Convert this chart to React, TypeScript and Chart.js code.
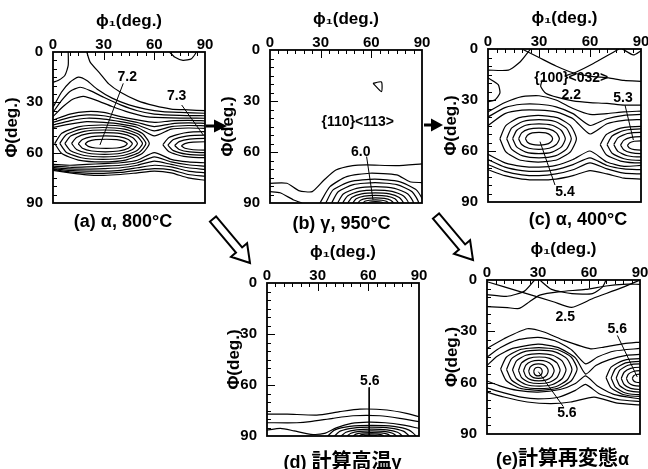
import React, { useEffect, useRef } from "react";
import { Chart, registerables } from "chart.js";

Chart.register(...registerables);

type Pt = [number, number];
type Label = { text: string; x: number; y: number; size: number };

// ---- shared axis values ----
const PHI1_GRID = [0, 10, 20, 30, 40, 50, 60, 70, 80, 90];
const AXIS_MIN = 0;
const AXIS_MAX = 90;
const AXIS_STEP = 30;
const X_TITLE = "ϕ₁(deg.)";
const Y_TITLE = "Φ(deg.)";
// unit contour-ring outline (a ring is given by its read extents [left, right, top, bottom])
const RING_SHAPE: Pt[] = [
  [-1, 0], [-0.85, -0.55], [-0.5, -0.9], [0, -1], [0.5, -0.9], [0.85, -0.55],
  [1, 0], [0.85, 0.55], [0.5, 0.9], [0, 1], [-0.5, 0.9], [-0.85, 0.55], [-1, 0],
];

// ---- (a) alpha, 800C ----
const A_LINES: Pt[][] = [
  [[9, 0], [9, 8], [7, 14], [3, 17], [0, 18]],
  [[69, 0], [72, 3], [77, 5], [82, 4], [85, 0]],
  [[20, 0], [22, 6], [28, 13], [33, 19], [40, 24], [50, 29], [60, 32], [70, 34], [80, 34.5], [90, 35]],
  [[0, 33], [5, 24], [10, 18], [15, 15], [20, 17], [26, 22], [35, 27.5], [45, 31.5], [55, 34], [65, 35.5], [75, 36], [90, 36.5]],
  [[0, 36], [5, 29], [10, 23.5], [16, 21], [22, 23], [30, 27], [40, 31.5], [50, 35], [60, 37], [75, 37.8], [90, 38]],
  [[0, 38.5], [6, 32.5], [12, 28], [18, 26.5], [25, 28.5], [35, 32.5], [45, 36], [55, 38.5], [70, 39.3], [90, 39.5]],
];
const A_GRID_LINES: number[][] = [
  [40.5, 37, 35.5, 36, 38.5, 40.5, 42, 41, 40.8, 41],
  [42, 39, 37.5, 38, 40, 42, 44.5, 42.8, 42.3, 42.5],
  [43.5, 41, 39.5, 40, 41.5, 43.5, 47, 44.5, 43.8, 44],
  [45, 43, 41.5, 42, 43, 45, 50, 46, 45.3, 45.5],
  [67, 67.5, 67, 66.5, 66, 64.5, 60, 64, 65.5, 66],
  [68, 68.7, 68.5, 68, 67.5, 66, 62.5, 65.5, 67.2, 68],
  [68.8, 69.7, 69.8, 69.5, 69, 67.5, 65, 67, 69, 70],
  [69.5, 70.6, 71, 71, 70.5, 69, 67.5, 68.5, 71, 72],
  [70, 71.4, 72.2, 72.3, 71.8, 70.5, 69.5, 70.3, 73, 74],
  [70.5, 72, 73.2, 73.5, 73, 72, 71, 72, 75, 76.5],
];
const A_RINGS: number[][] = [
  [19, 44, 52, 57.5], [15, 47, 50, 59.5], [11, 50, 48, 61], [7, 53, 46.5, 62.5], [4, 55, 45, 64], [1, 57, 43.5, 65.5],
  [76, 104, 53.5, 58.5], [72, 108, 51.5, 60], [68, 112, 49.5, 61.5], [65, 115, 47.5, 63],
];
const A_LEADERS: Pt[][] = [
  [[41.6, 18.7], [27.8, 55.4]],
  [[76.2, 31.6], [89, 49.5]],
];
const A_LABELS: Label[] = [
  { text: "7.2", x: 44, y: 14.9, size: 14 },
  { text: "7.3", x: 73.2, y: 26.6, size: 14 },
];

// ---- (b) gamma, 950C ----
const B_LINES: Pt[][] = [
  [[0, 78.4], [10, 78.4], [17, 82.7], [25, 83.3], [32, 76.5], [39, 70.6], [49, 68], [57, 67.6], [75, 68], [90, 67]],
  [[0, 83.3], [6, 84], [14, 88.2], [19, 90]],
  [[29.6, 90], [35.5, 80.4], [45.4, 74.5], [59, 72.5], [75, 73.5], [82.8, 77.5], [90, 78]],
  [[61, 19.6], [66, 18.8], [66, 24.5], [61, 19.6]],
];
const B_RINGS: number[][] = [
  [33, 91, 76, 104], [36.5, 88, 78, 102], [40, 85, 80.4, 99.6], [43, 82, 82.4, 97.6], [46, 79, 84, 96],
  [49, 76, 85.5, 94.5], [52, 73, 87, 93], [55, 70, 88.2, 91.8], [58, 67, 89.2, 90.8],
];
const B_LEADERS: Pt[][] = [[[57.2, 62.7], [61, 88.2]]];
const B_LABELS: Label[] = [
  { text: "{110}<113>", x: 52, y: 42.4, size: 14 },
  { text: "6.0", x: 53.7, y: 59.8, size: 14 },
];

// ---- (c) alpha, 400C ----
const C_LINES: Pt[][] = [
  [[0, 12.4], [12, 12.4], [19, 7.5], [25, 0]],
  [[79, 0], [85.5, 3.5], [90, 1]],
  [[20, 0], [30, 5], [40, 10], [50, 14], [60, 16], [71, 17], [80, 18.5], [90, 19]],
  [[77, 0], [70, 4], [62, 8.5], [52, 13.5], [45, 16]],
  [[0, 17], [6, 21], [7, 26], [4, 30], [0, 31]],
  [[32, 18], [31, 22], [34, 26], [41, 28.5], [50, 30.5], [60, 31.5], [70, 32], [80, 33], [90, 33]],
];
const C_GRID_LINES: number[][] = [
  [37, 31.5, 28, 27.5, 30, 35, 38.5, 38, 37, 36.5],
  [40, 34.5, 32.5, 32.5, 34, 38, 45, 41, 39, 38.5],
  [45, 38, 36, 36, 37, 41, 50, 44, 42, 41.5],
  [62, 67, 69, 69.5, 68.5, 65, 60, 66.5, 69, 68.5],
  [65, 69.5, 71.5, 72, 71, 68, 64, 68.5, 70.5, 71],
  [68, 72, 74, 74.5, 73.5, 71, 67, 70.5, 73, 73.5],
  [71, 74.5, 76.5, 77, 76.5, 74.5, 71.5, 73.5, 76, 76.5],
];
const C_RINGS: number[][] = [
  [22, 38, 49, 56.5], [18, 42, 46.5, 59], [14.5, 45.5, 44, 61.5], [11, 49, 41.5, 64], [7, 52, 39, 66.5],
  [82, 98, 54, 59.5], [78, 102, 51.5, 61.5], [74, 106, 49, 63.5], [70, 110, 47, 65.5], [66, 114, 45.5, 67],
];
const C_LEADERS: Pt[][] = [
  [[80.6, 33], [85.5, 53.5]],
  [[39.4, 80], [30.6, 54.5]],
];
const C_LABELS: Label[] = [
  { text: "{100}<032>", x: 49, y: 17, size: 14 },
  { text: "2.2", x: 49, y: 27, size: 14 },
  { text: "5.3", x: 79.4, y: 29, size: 14 },
  { text: "5.4", x: 45.3, y: 84, size: 14 },
];

// ---- (d) calculated high-temperature gamma ----
const D_LINES: Pt[][] = [
  [[0, 77.1], [12, 77.1], [29.5, 77.7], [43, 75.7], [55, 74.2], [71, 74.7], [82.5, 76.7], [90, 78.7]],
  [[0, 82.2], [17.7, 82.2], [25.5, 81.6], [39, 79.6], [51, 78.1], [66.8, 78.1], [78.6, 79.6], [90, 81.6]],
  [[0, 86.5], [8, 85.5], [16, 87], [26, 89], [34, 88.5], [41, 85.2], [50, 82.6], [60, 81.8], [70, 82.2], [80, 83.5], [90, 85.5]],
];
const D_RINGS: number[][] = [
  [36, 88, 83.7, 96.3], [40, 84, 84.8, 95.2], [44, 80, 86, 94], [47.5, 76.5, 87, 93],
  [51, 73, 88, 92], [54.5, 69, 88.8, 91.2], [57.5, 65, 89.5, 90.5],
];
const D_LEADERS: Pt[][] = [[[60.5, 61.4], [60.5, 90]]];
const D_LABELS: Label[] = [{ text: "5.6", x: 60.9, y: 58, size: 14 }];

// ---- (e) calculated re-transformed alpha ----
const E_LINES: Pt[][] = [
  [[0, 1], [19.4, 6.8], [39, 12.7], [49.8, 16], [62.5, 10.7], [78.2, 4.9], [90, 0]],
  [[0, 8.5], [12, 9.5], [22, 6.5], [28, 0]],
  [[31, 0], [38, 5.5], [50, 8], [62, 8], [68, 4], [70, 0]],
  [[0, 15.6], [12, 16.2], [19, 16.6], [25, 12.7], [31, 8.8], [43, 6.8], [58, 5.5], [70, 3.5], [80, 2.5], [90, 2.5]],
  [[0, 40], [10, 34.3], [23.7, 28.5], [33.5, 30.4], [45.3, 35.3], [61, 40.2], [68.8, 39.2], [80.6, 37.2], [90, 36.3]],
  [[0, 65.5], [10, 68.4], [23.7, 71.3], [37.5, 72.3], [49.2, 71.3], [63, 68.4], [76.7, 72], [90, 73]],
  [[0, 45], [8, 39.5], [18, 35], [30, 33.5], [40, 35.5], [50, 41], [58, 49], [65, 45], [75, 41.5], [90, 40]],
  [[0, 63], [10, 66], [20, 68.5], [30, 69.5], [42, 68.5], [52, 64.5], [58, 61], [66, 66.5], [78, 70], [90, 71]],
  [[0, 50], [6, 44.5], [15, 40], [30, 37.5], [42, 39.5], [52, 45.5], [58, 55], [64, 50], [72, 46.5], [82, 44], [90, 43.5]],
  [[0, 59], [8, 62], [18, 64.5], [30, 65.5], [43, 64], [52, 60.5], [58, 56], [65, 62], [75, 67], [90, 69.5]],
];
const E_RINGS: number[][] = [
  [27.5, 32.5, 51, 56], [24.5, 36, 49, 57.5], [21.5, 39.5, 47, 59], [18.5, 43, 45, 60.5],
  [15, 46.5, 43, 62], [11.5, 50, 41, 63.5], [8, 53, 39.5, 64.5],
  [85.5, 94.5, 55, 60], [82, 98, 53, 62], [79, 101, 51, 64], [76, 104, 49, 65.5], [73, 107, 47.5, 67], [70, 110, 46, 68],
];
const E_LEADERS: Pt[][] = [
  [[76.7, 32.4], [88.4, 56.7]],
  [[44.9, 74], [30.2, 53.6]],
];
const E_LABELS: Label[] = [
  { text: "2.5", x: 46, y: 21.5, size: 14 },
  { text: "5.6", x: 76.6, y: 28.5, size: 14 },
  { text: "5.6", x: 47, y: 77.8, size: 14 },
];

const CAPTIONS = [
  { head: "(a) α, 800°C", cjk: "", tail: "", x: 123, y: 221 },
  { head: "(b) γ, 950°C", cjk: "", tail: "", x: 341.5, y: 222.5 },
  { head: "(c) α, 400°C", cjk: "", tail: "", x: 578, y: 218.5 },
  { head: "(d) ", cjk: "計算高温", tail: "γ", x: 342.5, y: 460 },
  { head: "(e)", cjk: "計算再変態", tail: "α", x: 562.5, y: 456.5 },
];

interface PanelSpec {
  id: string;
  left: number;
  top: number;
  w: number;
  h: number;
  yTitlePad: number;
  lines: Pt[][];
  gridLines: number[][];
  rings: number[][];
  leaders: Pt[][];
  labels: Label[];
}

const PANELS: PanelSpec[] = [
  { id: "a", left: 53, top: 52, w: 152, h: 151, yTitlePad: 2.3, lines: A_LINES, gridLines: A_GRID_LINES, rings: A_RINGS, leaders: A_LEADERS, labels: A_LABELS },
  { id: "b", left: 270, top: 50, w: 152, h: 153, yTitlePad: 0.8, lines: B_LINES, gridLines: [], rings: B_RINGS, leaders: B_LEADERS, labels: B_LABELS },
  { id: "c", left: 488, top: 49, w: 153, h: 153, yTitlePad: 5.8, lines: C_LINES, gridLines: C_GRID_LINES, rings: C_RINGS, leaders: C_LEADERS, labels: C_LABELS },
  { id: "d", left: 267, top: 283, w: 152, h: 153, yTitlePad: 9.8, lines: D_LINES, gridLines: [], rings: D_RINGS, leaders: D_LEADERS, labels: D_LABELS },
  { id: "e", left: 487, top: 280, w: 153, h: 154, yTitlePad: 8.3, lines: E_LINES, gridLines: [], rings: E_RINGS, leaders: E_LEADERS, labels: E_LABELS },
];

const FONT_FAMILY = '"Liberation Sans", Arial, "DejaVu Sans", "Noto Sans CJK JP", sans-serif';
const CJK_FAMILY = '"Noto Sans CJK JP", "Noto Sans CJK SC", sans-serif';
const Y_AXIS_W = 53;
const X_AXIS_H = 52;
const PAD_R = 14;
const PAD_B = 12;

function ringPoints(r: number[]) {
  const [l, rr, t, b] = r;
  const cx = (l + rr) / 2;
  const cy = (t + b) / 2;
  const a = (rr - l) / 2;
  const h = (b - t) / 2;
  return RING_SHAPE.map(([u, v]) => ({ x: cx + u * a, y: cy + v * h }));
}

function lineStyle(tension: number) {
  return {
    showLine: true,
    pointRadius: 0,
    pointHoverRadius: 0,
    borderWidth: 1.2,
    borderColor: "#000",
    backgroundColor: "#000",
    fill: false,
    tension,
  };
}

function Panel({ spec }: { spec: PanelSpec }) {
  const ref = useRef<HTMLCanvasElement | null>(null);
  const W = Y_AXIS_W + spec.w + PAD_R;
  const H = X_AXIS_H + spec.h + PAD_B;

  useEffect(() => {
    if (!ref.current) return;
    const datasets: any[] = [];
    spec.gridLines.forEach((vals) =>
      datasets.push({ data: vals.map((v, i) => ({ x: PHI1_GRID[i], y: v })), ...lineStyle(0.2) })
    );
    spec.lines.forEach((pts) => datasets.push({ data: pts.map(([x, y]) => ({ x, y })), ...lineStyle(0.2) }));
    spec.rings.forEach((r) => datasets.push({ data: ringPoints(r), ...lineStyle(0.2) }));
    spec.leaders.forEach((pts) =>
      datasets.push({ data: pts.map(([x, y]) => ({ x, y })), ...lineStyle(0), borderWidth: 1 })
    );

    const framePlugin = {
      id: "frame" + spec.id,
      afterDatasetsDraw(chart: any) {
        const { ctx, chartArea: ca } = chart;
        const xs = chart.scales.x;
        const ys = chart.scales.y;
        ctx.save();
        ctx.strokeStyle = "#000";
        ctx.lineWidth = 1;
        for (let v = AXIS_MIN + 5; v < AXIS_MAX; v += 5) {
          const len = v % AXIS_STEP === 0 ? 8 : 4;
          const px = Math.round(xs.getPixelForValue(v)) + 0.5;
          ctx.beginPath();
          ctx.moveTo(px, ca.top);
          ctx.lineTo(px, ca.top + len);
          ctx.stroke();
          const py = Math.round(ys.getPixelForValue(v)) + 0.5;
          ctx.beginPath();
          ctx.moveTo(ca.left, py);
          ctx.lineTo(ca.left + len, py);
          ctx.stroke();
        }
        ctx.lineWidth = 1.8;
        ctx.strokeRect(ca.left, ca.top, ca.right - ca.left, ca.bottom - ca.top);
        ctx.fillStyle = "#000";
        ctx.textAlign = "center";
        ctx.textBaseline = "middle";
        spec.labels.forEach((l) => {
          ctx.font = `bold ${l.size}px ${FONT_FAMILY}`;
          ctx.fillText(l.text, xs.getPixelForValue(l.x), ys.getPixelForValue(l.y));
        });
        ctx.restore();
      },
    };

    const tickFont = { family: FONT_FAMILY, size: 15, weight: "bold" as const };
    const titleFont = { family: FONT_FAMILY, size: 17, weight: "bold" as const };

    const chart = new Chart(ref.current, {
      type: "line",
      data: { datasets },
      options: {
        animation: false,
        responsive: false,
        maintainAspectRatio: false,
        devicePixelRatio: 1,
        events: [],
        layout: { padding: { left: 0, top: 0, right: PAD_R, bottom: PAD_B } },
        plugins: { legend: { display: false }, tooltip: { enabled: false }, title: { display: false } },
        scales: {
          x: {
            type: "linear",
            position: "top",
            min: AXIS_MIN,
            max: AXIS_MAX,
            grid: { display: false, drawTicks: false },
            border: { display: false },
            ticks: { stepSize: AXIS_STEP, padding: -2, font: tickFont, color: "#000", maxRotation: 0, autoSkip: false },
            title: { display: true, text: X_TITLE, font: titleFont, color: "#000", padding: { top: 10.8, bottom: 0 } },
            afterFit: (s: any) => {
              s.height = X_AXIS_H;
              s.paddingLeft = 0;
              s.paddingRight = 0;
            },
          },
          y: {
            type: "linear",
            position: "left",
            reverse: true,
            min: AXIS_MIN,
            max: AXIS_MAX,
            grid: { display: false, drawTicks: false },
            border: { display: false },
            ticks: { stepSize: AXIS_STEP, padding: 10, font: tickFont, color: "#000", autoSkip: false },
            title: { display: true, text: Y_TITLE, font: titleFont, color: "#000", padding: { top: spec.yTitlePad, bottom: 0 } },
            afterFit: (s: any) => {
              s.width = Y_AXIS_W;
              s.paddingTop = 0;
              s.paddingBottom = 0;
            },
          },
        },
      } as any,
      plugins: [framePlugin],
    });
    return () => chart.destroy();
  }, [spec]);

  return (
    <canvas
      ref={ref}
      width={W}
      height={H}
      style={{ position: "absolute", left: spec.left - Y_AXIS_W, top: spec.top - X_AXIS_H, width: W, height: H }}
    />
  );
}

function HollowArrow({ x1, y1, x2, y2 }: { x1: number; y1: number; x2: number; y2: number }) {
  const L = Math.hypot(x2 - x1, y2 - y1);
  const ang = (Math.atan2(y2 - y1, x2 - x1) * 180) / Math.PI;
  const hl = 17;
  const pts = [
    [0, -4], [L - hl, -4], [L - hl, -10.5], [L, 0], [L - hl, 10.5], [L - hl, 4], [0, 4],
  ].map((p) => p.join(",")).join(" ");
  return (
    <polygon
      points={pts}
      transform={`translate(${x1},${y1}) rotate(${ang})`}
      fill="#fff"
      stroke="#000"
      strokeWidth={2}
      strokeLinejoin="miter"
    />
  );
}

export default function App() {
  return (
    <div style={{ position: "absolute", left: 0, top: 0, width: 648, height: 469, background: "#fff", overflow: "hidden" }}>
      {PANELS.map((p) => (
        <Panel key={p.id} spec={p} />
      ))}
      {CAPTIONS.map((c) => (
        <div
          key={c.head}
          style={{
            position: "absolute",
            left: c.x,
            top: c.y,
            transform: "translate(-50%, -50%)",
            whiteSpace: "nowrap",
            fontFamily: FONT_FAMILY,
            fontWeight: "bold",
            fontSize: 18,
            color: "#000",
            lineHeight: 1,
          }}
        >
          {c.head}
          {c.cjk ? <span style={{ fontFamily: CJK_FAMILY, fontSize: 20 }}>{c.cjk}</span> : null}
          {c.tail}
        </div>
      ))}
      <svg width={648} height={469} style={{ position: "absolute", left: 0, top: 0, pointerEvents: "none" }}>
        <line x1={206} y1={126} x2={217} y2={126} stroke="#000" strokeWidth={3} />
        <polygon points="214,119.5 227,126 214,132.5" fill="#000" />
        <line x1={424} y1={125} x2={433} y2={125} stroke="#000" strokeWidth={3} />
        <polygon points="431,118.5 443,125 431,131.5" fill="#000" />
        <HollowArrow x1={213} y1={219} x2={250} y2={263} />
        <HollowArrow x1={436} y1={216} x2={473} y2={260} />
      </svg>
    </div>
  );
}
